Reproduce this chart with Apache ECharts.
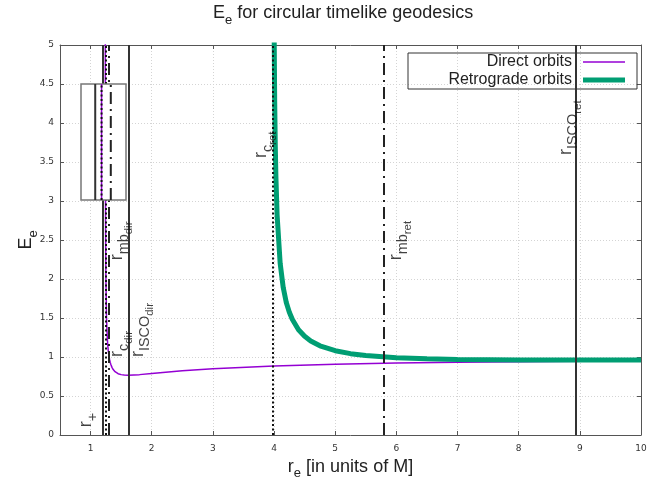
<!DOCTYPE html>
<html><head><meta charset="utf-8">
<script src="https://cdn.jsdelivr.net/npm/echarts@6/dist/echarts.min.js"></script>
<style>html,body{margin:0;padding:0;background:#fff}#c{width:669px;height:480px}</style>
</head><body><div id="c"></div>
<script>
// ---- data ----
const xTicks = [1, 2, 3, 4, 5, 6, 7, 8, 9, 10];
const rDirect = [1.2405, 1.241, 1.242, 1.243, 1.245, 1.25, 1.26, 1.27, 1.28, 1.29, 1.30, 1.31, 1.32, 1.33, 1.35, 1.37, 1.40, 1.42, 1.45, 1.5, 1.55, 1.614, 1.8, 2, 2.5, 3, 4, 5, 6, 7, 8, 9, 10];
const eDirect = [6.59, 5.27, 4.08, 3.45, 2.77, 2.04, 1.52, 1.29, 1.16, 1.075, 1.014, 0.969, 0.934, 0.907, 0.867, 0.839, 0.812, 0.799, 0.786, 0.774, 0.768, 0.766, 0.774, 0.789, 0.824, 0.850, 0.885, 0.907, 0.922, 0.932, 0.940, 0.947, 0.952];
const rRetro = [3.99, 4.0, 4.01, 4.02, 4.03, 4.05, 4.1, 4.15, 4.2, 4.25, 4.3, 4.4, 4.5, 4.6, 4.75, 5, 5.25, 5.5, 6, 6.5, 7, 8, 9, 10];
const eRetro = [8.01, 5.34, 4.30, 3.71, 3.32, 2.82, 2.20, 1.89, 1.70, 1.574, 1.480, 1.350, 1.266, 1.206, 1.144, 1.081, 1.043, 1.019, 0.991, 0.977, 0.969, 0.963, 0.962, 0.963];
// special radii (vertical lines)
const lineNames = ['r+', 'rc_dir', 'rmb_dir', 'rISCO_dir', 'rc_ret', 'rmb_ret', 'rISCO_ret'];
const lineR = [1.199, 1.239, 1.303, 1.62, 3.982, 5.794, 8.944];
// label anchor points (data coords) and texts
const labelR = [0.771, 1.278, 1.278, 1.622, 3.635, 5.845, 8.627];
const labelE = [0.10, 1.0, 2.24, 1.0, 3.55, 2.24, 3.59];
const labelText = ['{m|r}{s|+}', '{m|r}{s|c}{ss|dir}', '{m|r}{s|mb}{ss|dir}', '{m|r}{s|ISCO}{ss|dir}', '{m|r}{s|c}{ss|ret}', '{m|r}{s|mb}{ss|ret}', '{m|r}{s|ISCO}{ss|ret}'];
// inset (normalized inset coordinates 0..1)
const insetNames = ['r+', 'rc_dir', 'rmb_dir'];
const insetX = [0.316, 0.457, 0.662];

// ---- styles ----
const FONT = 'Liberation Sans';
const axisColor = '#555';
const styleOf = {
  'r+': {color: '#333', width: 2, type: 'solid'},
  'rc_dir': {color: '#111', width: 2, type: [2, 2.5]},
  'rmb_dir': {color: '#222', width: 2, type: [12, 5, 2, 5]},
  'rISCO_dir': {color: '#333', width: 2, type: 'solid'},
  'rc_ret': {color: '#111', width: 2, type: [2, 2.5]},
  'rmb_ret': {color: '#222', width: 2, type: [12, 5, 2, 5]},
  'rISCO_ret': {color: '#333', width: 2, type: 'solid'}
};
const rich = {
  m: {fontSize: 18, fontFamily: FONT, color: '#111', lineHeight: 20, verticalAlign: 'top'},
  s: {fontSize: 14.4, fontFamily: FONT, color: '#111', lineHeight: 15, padding: [9, 0, 0, 0], verticalAlign: 'top'},
  ss: {fontSize: 11.5, fontFamily: FONT, color: '#111', lineHeight: 12, padding: [15, 0, 0, 0], verticalAlign: 'top'}
};
const richT = {
  m: {fontSize: 18, fontFamily: FONT, fontWeight: 'normal', color: '#222', lineHeight: 22, verticalAlign: 'top'},
  s: {fontSize: 13, fontFamily: FONT, fontWeight: 'normal', color: '#222', lineHeight: 14, padding: [10, 0, 0, 0], verticalAlign: 'top'}
};
const richX = {
  m: {fontSize: 18, fontFamily: FONT, color: '#222', lineHeight: 20, verticalAlign: 'top'},
  s: {fontSize: 13, fontFamily: FONT, color: '#222', lineHeight: 13, padding: [9, 0, 0, 0], verticalAlign: 'top'}
};

const zip = (a, b) => a.map((v, i) => [v, b[i]]);

const chart = echarts.init(document.getElementById('c'));
const tickLabel = {fontFamily: 'DejaVu Sans', fontSize: 9, color: '#333'};
const gridLine = {show: true, lineStyle: {color: '#d4d4d4', type: [1, 2], width: 1}};
const option = {
  animation: false,
  backgroundColor: '#fff',
  title: {text: '{m|E}{s|e}{m| for circular timelike geodesics}', left: 213, top: 4, padding: 0,
          textStyle: {fontWeight: 'normal', rich: richT}},
  legend: {
    data: [
      {name: 'Direct orbits', icon: 'path://M0,0H42V1.5H0Z'},
      {name: 'Retrograde orbits', icon: 'path://M0,0H42V5H0Z'}
    ],
    orient: 'vertical', left: 408, top: 53,
    align: 'right', itemWidth: 42, itemHeight: 16, itemGap: 2, padding: [1, 12, 1, 14],
    borderColor: '#333', borderWidth: 1, selectedMode: false,
    textStyle: {fontFamily: FONT, fontSize: 16, color: '#222', width: 150, padding: [0, 6, 0, 0], lineHeight: 16}
  },
  grid: [
    {left: 60, right: 28, top: 45, bottom: 45, containLabel: false, outerBoundsMode: 'none'},
    {left: 81, top: 84, width: 45, height: 116, show: true, backgroundColor: '#fff', borderColor: '#777', borderWidth: 1.5, z: 6, outerBoundsMode: 'none'}
  ],
  xAxis: [
    {type: 'value', gridIndex: 0, min: 0.5, max: 10, position: 'bottom',
     name: '{m|r}{s|e}{m| [in units of M]}', nameLocation: 'middle', nameGap: 23, nameMoveOverlap: false,
     nameTextStyle: {rich: richX},
     axisLine: {show: true, onZero: false, lineStyle: {color: axisColor, width: 1}},
     axisTick: {show: true, inside: true, length: 4, customValues: xTicks, lineStyle: {color: axisColor}},
     axisLabel: Object.assign({customValues: xTicks, margin: 9}, tickLabel),
     splitLine: gridLine},
    {type: 'value', gridIndex: 0, min: 0.5, max: 10, position: 'top',
     axisLine: {show: true, onZero: false, lineStyle: {color: axisColor, width: 1}},
     axisTick: {show: true, inside: true, length: 4, customValues: xTicks, lineStyle: {color: axisColor}},
     axisLabel: {show: false}, splitLine: {show: false}},
    {type: 'value', gridIndex: 1, min: 0, max: 1, show: false}
  ],
  yAxis: [
    {type: 'value', gridIndex: 0, min: 0, max: 5, interval: 0.5, position: 'left',
     name: '{m|E}{s|e}', nameLocation: 'middle', nameGap: 21, nameMoveOverlap: false,
     nameTextStyle: {rich: richT},
     axisLine: {show: true, onZero: false, lineStyle: {color: axisColor, width: 1}},
     axisTick: {show: true, inside: true, length: 4, lineStyle: {color: axisColor}},
     axisLabel: Object.assign({margin: 6}, tickLabel),
     splitLine: gridLine},
    {type: 'value', gridIndex: 0, min: 0, max: 5, interval: 0.5, position: 'right',
     axisLine: {show: true, onZero: false, lineStyle: {color: axisColor, width: 1}},
     axisTick: {show: true, inside: true, length: 4, lineStyle: {color: axisColor}},
     axisLabel: {show: false}, splitLine: {show: false}},
    {type: 'value', gridIndex: 1, min: 0, max: 1, show: false}
  ],
  series: [
    {name: 'Direct orbits', type: 'line', xAxisIndex: 0, yAxisIndex: 0, data: zip(rDirect, eDirect),
     symbol: 'none', clip: true, z: 3, color: '#9400d3', lineStyle: {color: '#9400d3', width: 1.5}},
    {name: 'Retrograde orbits', type: 'line', xAxisIndex: 0, yAxisIndex: 0, data: zip(rRetro, eRetro),
     symbol: 'none', clip: true, z: 4, color: '#009e73', lineStyle: {color: '#009e73', width: 5}},
    {name: 'guides', type: 'line', xAxisIndex: 0, yAxisIndex: 0, data: [], z: 5,
     markLine: {silent: true, symbol: ['none', 'none'], label: {show: false}, emphasis: {disabled: true},
       data: lineR.map((r, i) => ({xAxis: r, lineStyle: styleOf[lineNames[i]]}))}},
    {name: 'labels', type: 'scatter', xAxisIndex: 0, yAxisIndex: 0, z: 8, silent: true,
     symbolSize: 0, itemStyle: {color: 'transparent'},
     data: zip(labelR, labelE),
     label: {show: true, position: 'inside', rotate: 90, align: 'left', verticalAlign: 'top',
       formatter: p => labelText[p.dataIndex], rich: rich}},
    // inset contents
    {name: 'inset-dir', type: 'line', xAxisIndex: 2, yAxisIndex: 2, z: 7, symbol: 'none', silent: true,
     data: [[insetX[1], 0], [insetX[1], 1]], lineStyle: {color: '#9400d3', width: 1.5}}
  ].concat(insetX.map((x, i) => ({
     name: 'inset-' + insetNames[i], type: 'line', xAxisIndex: 2, yAxisIndex: 2, z: 8, symbol: 'none', silent: true,
     data: [[x, 0], [x, 1]], lineStyle: styleOf[insetNames[i]]})))
};
chart.setOption(option);
</script></body></html>
